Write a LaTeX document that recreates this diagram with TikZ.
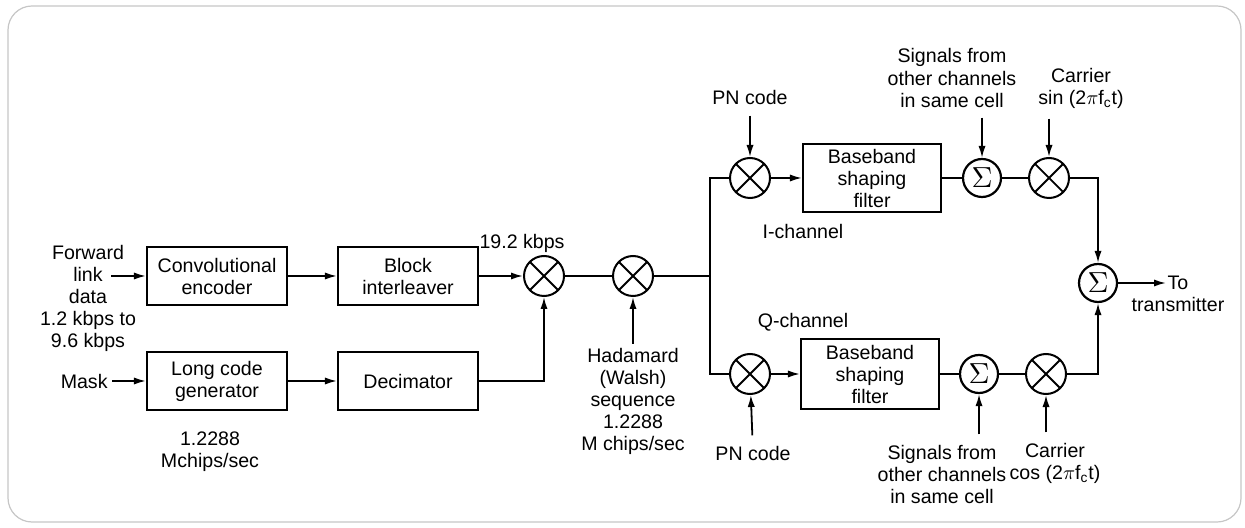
\documentclass[tikz,border=0pt]{standalone}
\usepackage{fontspec}
\setmainfont{Liberation Sans}
\usepackage{tikz}
\usetikzlibrary{arrows.meta, positioning}

\newcommand{\sumsign}{\scalebox{1.45}{$\Sigma$}}

\begin{document}
\begin{tikzpicture}[x=0.5pt, y=-0.5pt,
  font=\fontsize{9.8}{11}\selectfont,
  blk/.style={draw,rectangle,line width=1.1pt,minimum width=70pt,
              minimum height=29pt,align=center,inner sep=1pt},
  mix/.style={draw,circle,line width=1pt,minimum size=20pt,inner sep=0pt,
              path picture={\draw[line width=0.9pt]
                (path picture bounding box.north west)--(path picture bounding box.south east)
                (path picture bounding box.north east)--(path picture bounding box.south west);}},
  sum/.style={draw,circle,line width=1.1pt,minimum size=19pt,inner sep=0pt},
  lbl/.style={align=center,inner sep=0pt},
  src/.style={align=center,inner xsep=0pt,inner ysep=5pt},
  wire/.style={line width=0.9pt},
  arr/.style={wire,-{Latex[length=6pt,width=3.6pt]}}
]
\useasboundingbox (0,0) rectangle (1245,528);
\draw[gray!45,line width=0.6pt,rounded corners=12pt] (8,6) rectangle (1241,522);

% left half
\node[lbl]  (fwd)  at (88,298)  {Forward\\link\\data\\1.2 kbps to\\9.6 kbps};
\coordinate (fin)  at (111,276);
\node[blk]  (conv) at (217,276) {Convolutional\\encoder};
\node[blk]  (bi)   at (408,276) {Block\\interleaver};
\node[lbl,anchor=east] (mask) at (108,381) {Mask};
\node[blk]  (lcg)  at (217,381) {Long code\\generator};
\node[blk]  (dec)  at (408,381) {Decimator};
\node[lbl]  (rate) at (210,452) {1.2288\\Mchips/sec};
\node[mix]  (m1)   at (544,276) {};
\node[lbl]  (kb)   at (522,243) {19.2 kbps};
\node[mix]  (m2)   at (633,276) {};
\node[lbl,anchor=north,inner ysep=2pt] (had) at (633,344)
  {Hadamard\\(Walsh)\\sequence\\1.2288\\M chips/sec};
\coordinate (sp)   at (710,276);

% I-channel
\node[mix]  (mI)   at (750,178) {};
\node[src]  (pnI)  at (750,98)  {PN code};
\node[blk,minimum width=69pt,minimum height=34pt] (bI) at (872,178) {Baseband\\shaping\\filter};
\node[lbl]  (ich)  at (803,231) {I-channel};
\node[sum]  (sI)   at (982,178) {\sumsign};
\node[src]  (sigI) at (952,78)  {Signals from\\other channels\\in same cell};
\node[mix]  (cI)   at (1049,178) {};
\node[src]  (carI) at (1081,88) {Carrier\\sin (2$\pi$f\textsubscript{c}t)};

% Q-channel
\node[mix]  (mQ)   at (750,374) {};
\node[src]  (pnQ)  at (753,453) {PN code};
\node[blk,minimum width=69pt,minimum height=35pt] (bQ) at (870,374) {Baseband\\shaping\\filter};
\node[lbl]  (qch)  at (803,322) {Q-channel};
\node[sum]  (sQ)   at (979,374) {\sumsign};
\node[src]  (sigQ) at (942,474) {Signals from\\other channels\\in same cell};
\node[mix]  (cQ)   at (1046,374) {};
\node[src]  (carQ) at (1055,463) {Carrier\\cos (2$\pi$f\textsubscript{c}t)};

% output
\node[sum]  (so)   at (1098,283) {\sumsign};
\node[lbl]  (tx)   at (1178,294) {To\\transmitter};
\coordinate (txin) at (1166,283);

\draw[arr] (fin)--(conv);
\draw[arr] ([xshift=2pt]mask.east)--(lcg);
\draw[arr] (conv)--(bi);
\draw[arr] (lcg)--(dec);
\draw[arr] (bi)--(m1);
\draw[arr] (dec)-|(m1);
\draw[wire] (m1)--(m2);
\draw[arr] (m2 |- had.north)--(m2);
\draw[wire] (m2)--(sp);
\draw[wire] (mI)-|(sp)|-(mQ);

\draw[arr] (pnI)--(mI);
\draw[arr] (mI)--(bI);
\draw[wire] (bI)--(sI);
\draw[arr] (sI |- sigI.south)--(sI);
\draw[wire] (sI)--(cI);
\draw[arr] (cI |- carI.south)--(cI);
\draw[arr] (cI)-|(so);

\draw[arr] (pnQ)--(mQ);
\draw[arr] (mQ)--(bQ);
\draw[wire] (bQ)--(sQ);
\draw[arr] (sQ |- sigQ.north)--(sQ);
\draw[wire] (sQ)--(cQ);
\draw[arr] (cQ |- carQ.north)--(cQ);
\draw[arr] (cQ)-|(so);

\draw[arr] (so)--(txin);
\end{tikzpicture}
\end{document}
